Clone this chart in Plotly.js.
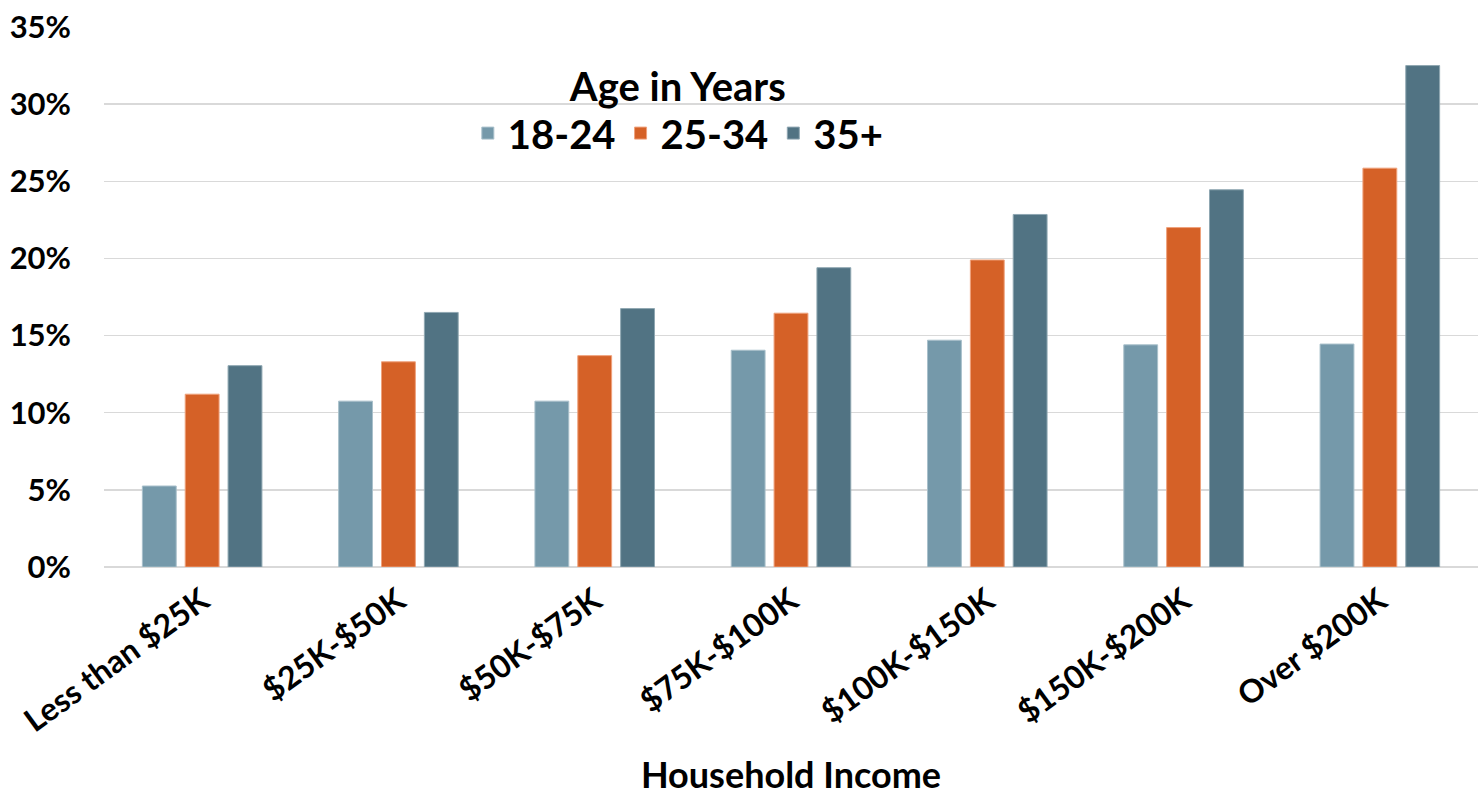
<!DOCTYPE html>
<html>
<head>
<meta charset="utf-8">
<script src="https://cdn.plot.ly/plotly-3.0.1.min.js"></script>
<style>
  html, body { margin: 0; padding: 0; background: #fff; }
  #chart { width: 1478px; height: 796px; }
</style>
</head>
<body>
<div id="chart"></div>
<script>
const categories = ["Less than $25K", "$25K-$50K", "$50K-$75K", "$75K-$100K", "$100K-$150K", "$150K-$200K", "Over $200K"];
const age18_24 = [5.25, 10.75, 10.75, 14.05, 14.7, 14.4, 14.45];
const age25_34 = [11.2, 13.3, 13.7, 16.45, 19.9, 22.0, 25.85];
const age35plus = [13.05, 16.5, 16.75, 19.4, 22.85, 24.45, 32.5];
const seriesNames = ["18-24", "25-34", "35+"];
const yTickVals = [0, 5, 10, 15, 20, 25, 30, 35];
const yTickText = ["0%", "5%", "10%", "15%", "20%", "25%", "30%", "35%"];

const colors = ["#7599AA", "#D56127", "#517383"];
const lineColors = ["#A9C0CB", "#EFA27C", "#8FA7B2"];
const seriesValues = [age18_24, age25_34, age35plus];

const traces = seriesNames.map((n, i) => ({
  type: "bar",
  name: n,
  x: categories,
  y: seriesValues[i],
  marker: { color: colors[i], line: { color: lineColors[i], width: 1 } },
  hoverinfo: "x+y+name"
}));

const FONT = "Lato, 'Open Sans', Arial, sans-serif";

const layout = {
  width: 1478,
  height: 796,
  paper_bgcolor: "#ffffff",
  plot_bgcolor: "#ffffff",
  margin: { l: 104, r: 0, t: 27, b: 229 },
  barmode: "group",
  bargap: 0.345,
  bargroupgap: 0.21,
  font: { family: FONT, color: "#000000" },
  xaxis: {
    type: "category",
    tickangle: -36,
    tickfont: { family: FONT, size: 32, color: "#000", weight: "bold" },
    ticklabelstandoff: 8,
    showgrid: false,
    showline: false,
    ticks: "",
    title: { text: "<b>Household Income</b>", font: { family: FONT, size: 36, color: "#000" }, standoff: 30 },
    automargin: false
  },
  yaxis: {
    range: [0, 35],
    tickvals: yTickVals,
    ticktext: yTickText,
    tickfont: { family: FONT, size: 31, color: "#000", weight: "bold" },
    showgrid: true,
    gridcolor: "#D9D9D9",
    gridwidth: 1.5,
    zeroline: true,
    zerolinecolor: "#D9D9D9",
    zerolinewidth: 1.5,
    showline: false,
    ticks: "",
    ticklabelstandoff: 32,
    automargin: false
  },
  showlegend: true,
  legend: {
    orientation: "h",
    x: 0.418,
    xanchor: "center",
    y: 0.96,
    yanchor: "top",
    bgcolor: "rgba(0,0,0,0)",
    font: { family: FONT, size: 40, color: "#000", weight: "bold" },
    title: { text: "<b>Age in Years</b>", side: "top center", font: { family: FONT, size: 40, color: "#000" } },
    itemclick: false,
    traceorder: "normal"
  }
};

Plotly.newPlot("chart", traces, layout, { displayModeBar: false, staticPlot: true });
</script>
</body>
</html>
